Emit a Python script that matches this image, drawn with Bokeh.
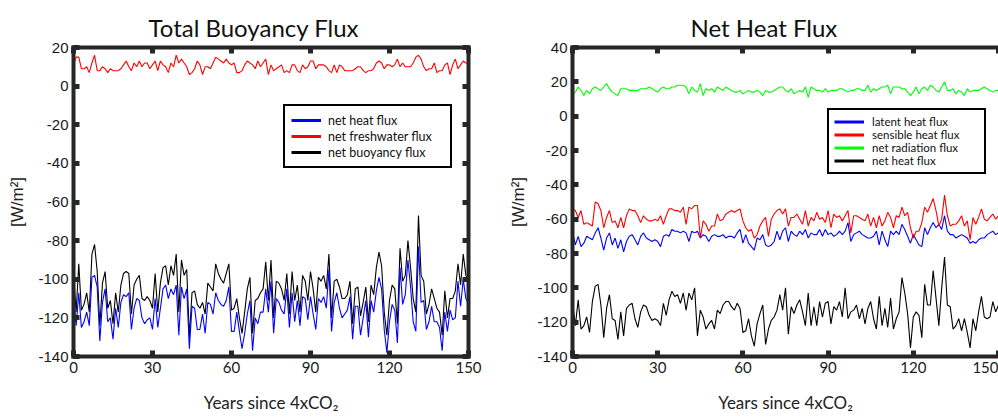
from bokeh.plotting import figure
from bokeh.layouts import row
from bokeh.models import Range1d, LinearAxis, Legend, LegendItem, Title, FixedTicker
from bokeh.embed import file_html
from bokeh.resources import INLINE

years = list(range(151))

# Left panel: Total Buoyancy Flux
buoy_heat = [-108, -124, -107, -125, -122, -117, -124, -99, -98, -104, -132, -112, -105, -122, -120, -131, -115, -125, -112, -108,
             -109, -107, -126, -115, -110, -111, -120, -123, -121, -120, -126, -110, -125, -115, -105, -103, -110, -105, -108, -103,
             -129, -104, -110, -105, -136, -114, -115, -126, -126, -118, -128, -112, -113, -118, -107, -111, -113, -114, -111, -104,
             -127, -127, -117, -127, -136, -128, -118, -111, -137, -120, -123, -117, -117, -105, -117, -101, -128, -110, -112, -116,
             -118, -105, -125, -107, -122, -111, -124, -109, -110, -121, -109, -118, -126, -110, -112, -109, -115, -95, -127, -112,
             -107, -115, -120, -118, -116, -109, -131, -114, -114, -129, -120, -111, -130, -111, -117, -106, -99, -105, -126, -138,
             -122, -113, -116, -133, -94, -113, -108, -90, -104, -122, -127, -83, -112, -111, -126, -122, -114, -122, -122, -125,
             -137, -117, -127, -116, -121, -120, -101, -114, -100, -110, -113]
buoy_fresh = [11, 15, 15, 9, 9, 10, 7, 12, 16, 8, 8, 10, 9, 7, 9, 8, 8, 8, 9, 11,
              13, 10, 8, 12, 10, 13, 10, 12, 12, 9, 11, 13, 8, 13, 11, 10, 7, 12, 10, 16,
              12, 14, 12, 10, 6, 7, 9, 13, 11, 6, 10, 10, 9, 12, 15, 14, 13, 12, 14, 12,
              11, 12, 7, 7, 8, 11, 13, 12, 11, 9, 13, 10, 12, 14, 6, 11, 8, 9, 10, 11,
              7, 8, 7, 11, 11, 8, 7, 11, 9, 10, 13, 13, 9, 11, 11, 11, 10, 8, 7, 11,
              7, 11, 10, 8, 8, 8, 8, 9, 10, 10, 8, 7, 8, 8, 9, 12, 13, 12, 9, 11,
              11, 10, 11, 14, 10, 12, 10, 10, 10, 12, 15, 16, 14, 10, 8, 9, 9, 12, 7, 8,
              8, 11, 12, 6, 11, 14, 9, 11, 13, 12, 12]
buoy_net = [-97, -117, -92, -116, -113, -107, -117, -87, -82, -96, -124, -102, -96, -115, -111, -123, -107, -117, -103, -97,
            -96, -97, -118, -103, -100, -98, -110, -111, -109, -111, -115, -97, -117, -102, -94, -93, -103, -93, -98, -87,
            -117, -90, -98, -95, -130, -107, -106, -113, -115, -112, -118, -102, -104, -106, -92, -97, -100, -102, -97, -92,
            -116, -115, -110, -120, -128, -117, -105, -99, -128, -111, -110, -107, -105, -91, -111, -90, -120, -101, -102, -105,
            -111, -97, -118, -96, -111, -103, -117, -98, -101, -111, -96, -105, -117, -99, -101, -98, -105, -87, -120, -101,
            -100, -104, -110, -110, -108, -101, -123, -105, -104, -119, -112, -104, -122, -103, -108, -94, -86, -93, -117, -129,
            -111, -103, -105, -123, -84, -101, -98, -80, -94, -110, -117, -67, -98, -101, -118, -113, -105, -110, -115, -117,
            -129, -106, -120, -110, -110, -106, -92, -103, -87, -98, -101]

# Right panel: Net Heat Flux
latent = [-67, -75, -70, -76, -74, -70, -71, -72, -68, -65, -71, -78, -71, -68, -75, -71, -77, -72, -79, -73,
          -70, -69, -72, -75, -70, -68, -71, -72, -73, -72, -73, -76, -70, -69, -70, -66, -67, -67, -68, -67,
          -68, -73, -67, -68, -67, -71, -69, -70, -73, -70, -69, -70, -70, -69, -71, -70, -70, -71, -68, -66,
          -74, -69, -74, -76, -78, -71, -72, -69, -75, -76, -75, -73, -67, -72, -67, -65, -73, -67, -69, -70,
          -67, -69, -66, -71, -68, -69, -69, -66, -70, -66, -69, -68, -70, -69, -67, -69, -67, -62, -73, -69,
          -68, -67, -69, -70, -71, -71, -70, -67, -75, -67, -72, -76, -67, -69, -67, -69, -63, -66, -70, -74,
          -69, -72, -75, -76, -65, -69, -65, -62, -65, -63, -66, -58, -67, -69, -69, -71, -70, -69, -70, -71,
          -74, -73, -74, -72, -71, -71, -69, -68, -67, -69, -68]
sensible = [-54, -55, -59, -55, -63, -62, -63, -64, -50, -51, -55, -65, -59, -55, -62, -61, -65, -59, -65, -58,
            -54, -55, -55, -58, -62, -58, -60, -61, -61, -60, -61, -58, -63, -58, -54, -54, -55, -55, -56, -53,
            -63, -53, -54, -52, -52, -71, -61, -63, -67, -64, -64, -57, -61, -60, -57, -56, -55, -56, -55, -54,
            -61, -65, -67, -66, -71, -69, -64, -61, -59, -70, -60, -57, -55, -54, -57, -54, -64, -59, -59, -57,
            -60, -63, -55, -64, -59, -61, -56, -60, -59, -62, -55, -65, -57, -59, -58, -61, -58, -55, -68, -58,
            -58, -59, -60, -61, -57, -64, -59, -65, -58, -64, -61, -56, -59, -65, -58, -59, -53, -58, -56, -65,
            -71, -67, -67, -62, -53, -56, -52, -48, -55, -64, -60, -46, -58, -64, -63, -63, -61, -58, -64, -61,
            -72, -59, -63, -59, -54, -60, -61, -59, -57, -60, -58]
radiation = [13, 14, 17, 15, 12, 15, 13, 16, 17, 16, 15, 17, 19, 16, 14, 13, 12, 16, 16, 16,
             15, 15, 15, 15, 16, 16, 16, 17, 16, 15, 14, 16, 17, 16, 16, 17, 17, 18, 18, 18,
             17, 13, 17, 15, 14, 19, 12, 16, 15, 16, 14, 17, 16, 15, 17, 16, 15, 14, 14, 15,
             13, 14, 15, 14, 14, 15, 14, 12, 15, 14, 14, 15, 16, 17, 17, 15, 14, 16, 13, 14,
             15, 14, 17, 11, 17, 16, 15, 15, 14, 16, 14, 15, 15, 15, 16, 16, 15, 14, 15, 15,
             16, 16, 15, 15, 18, 14, 16, 15, 16, 17, 17, 18, 13, 17, 17, 17, 16, 16, 14, 12,
             14, 17, 13, 16, 17, 15, 18, 17, 15, 14, 17, 20, 15, 15, 16, 13, 15, 14, 12, 16,
             14, 15, 15, 15, 16, 17, 16, 15, 14, 15, 15]
net_heat = [-108, -122, -107, -124, -122, -117, -126, -108, -99, -98, -110, -129, -112, -104, -118, -119, -130, -114, -128, -112,
            -110, -109, -118, -123, -114, -110, -111, -116, -119, -118, -119, -122, -109, -116, -107, -102, -105, -104, -109, -103,
            -113, -103, -107, -100, -128, -113, -117, -124, -121, -119, -124, -113, -115, -110, -108, -108, -111, -113, -109, -112,
            -126, -125, -118, -128, -134, -121, -115, -110, -133, -124, -119, -117, -113, -104, -113, -100, -127, -111, -115, -110,
            -107, -114, -122, -103, -122, -111, -122, -108, -117, -109, -108, -121, -111, -113, -108, -117, -100, -118, -114, -113,
            -110, -118, -112, -121, -112, -108, -118, -124, -105, -122, -112, -123, -106, -124, -118, -114, -94, -103, -115, -135,
            -117, -114, -116, -129, -98, -110, -110, -90, -106, -122, -100, -82, -110, -111, -124, -122, -118, -125, -118, -126,
            -135, -118, -125, -114, -105, -117, -118, -117, -108, -114, -110]

x_ticks = [0, 30, 60, 90, 120, 150]
x_tick_labels = ["0", "30", "60", "90", "120", "150"]
left_y_ticks = [20, 0, -20, -40, -60, -80, -100, -120, -140]
left_y_tick_labels = ["20", "0", "-20", "-40", "-60", "-80", "-100", "-120", "-140"]
right_y_ticks = [40, 20, 0, -20, -40, -60, -80, -100, -120, -140]
right_y_tick_labels = ["40", "20", "0", "-20", "-40", "-60", "-80", "-100", "-120", "-140"]

FRAME = "#262626"
BLUE, RED, GREEN, BLACK = "#0000ff", "#ff0000", "#00ff00", "#000000"


def style_axis(ax, ticks, labels, font):
    ax.ticker = FixedTicker(ticks=ticks)
    ax.axis_line_width = 4
    ax.axis_line_color = FRAME
    ax.axis_line_cap = "square"
    ax.major_tick_in = 6
    ax.major_tick_out = 0
    ax.major_tick_line_width = 5
    ax.major_tick_line_color = FRAME
    ax.minor_tick_line_color = None
    if labels is not None:
        ax.major_label_overrides = {t: s for t, s in zip(ticks, labels)}
        ax.major_label_text_font_size = "15px"
        ax.major_label_text_font = font
        ax.major_label_text_color = "#1a1a1a"
        ax.major_label_standoff = 5
        ax.axis_label_text_font_style = "normal"
        ax.axis_label_text_color = "#222222"
        ax.axis_label_text_font_size = "17px"
    else:
        ax.major_label_text_color = None
        ax.major_label_text_font_size = "1px"
        ax.major_label_standoff = 0


def make_fig(width, ymin, ymax, yticks, ylabels, mb_left, mb_right, mb_top, mb_bottom,
             right_axis, title, title_offset, ylab_standoff):
    p = figure(width=width, height=417, output_backend="svg", toolbar_location=None,
               x_range=Range1d(0, 150), y_range=Range1d(ymin, ymax),
               min_border_left=mb_left, min_border_right=mb_right,
               min_border_top=mb_top, min_border_bottom=mb_bottom,
               x_axis_location=None, y_axis_location=None)
    p.outline_line_color = None
    p.grid.visible = False
    p.background_fill_color = "white"
    p.border_fill_color = "white"
    p.title = Title(text=title, align="left", offset=title_offset, text_font="Lato",
                    text_font_size="24px", text_font_style="normal", text_color="#111111",
                    standoff=8, vertical_align="top")
    bx = LinearAxis(axis_label="Years since 4xCO\u2082", axis_label_standoff=16,
                    axis_label_text_font="Lato")
    style_axis(bx, x_ticks, x_tick_labels, "Lato")
    p.add_layout(bx, "below")
    tx = LinearAxis()
    style_axis(tx, x_ticks, None, "Lato")
    p.add_layout(tx, "above")
    ly = LinearAxis(axis_label="[W/m\u00b2]", axis_label_standoff=ylab_standoff,
                    axis_label_text_font="Liberation Sans")
    style_axis(ly, yticks, ylabels, "Liberation Sans")
    p.add_layout(ly, "left")
    if right_axis:
        ry = LinearAxis()
        style_axis(ry, yticks, None, "Liberation Sans")
        p.add_layout(ry, "right")
    return p


def make_legend(p, names, colors, series, loc, font_size, row_h, padding, glyph_w, standoff, label_w):
    dummies = [p.line(years, s, color=c, line_width=3, visible=False) for s, c in zip(series, colors)]
    leg = Legend(items=[LegendItem(label=n, renderers=[d]) for n, d in zip(names, dummies)],
                 location=loc, margin=0, padding=padding, spacing=0,
                 glyph_width=glyph_w, glyph_height=row_h, label_height=row_h, label_standoff=standoff,
                 label_width=label_w,
                 label_text_font="Lato", label_text_font_size=font_size, label_text_color="#111111",
                 border_line_color="black", border_line_width=2, border_line_alpha=1,
                 background_fill_color="white", background_fill_alpha=1,
                 inactive_fill_alpha=0, click_policy="none")
    p.add_layout(leg)


# ---------- left panel ----------
p1 = make_fig(500, -140, 20, left_y_ticks, left_y_tick_labels, 73, 32, 43, 60, True,
              "Total Buoyancy Flux", 75, 8)
p1.line(years, buoy_net, color=BLACK, line_width=1.1)
p1.line(years, buoy_heat, color=BLUE, line_width=1.1)
p1.line(years, buoy_fresh, color=RED, line_width=1.1)
make_legend(p1, ["net heat flux", "net freshwater flux", "net buoyancy flux"],
            [BLUE, RED, BLACK], [buoy_heat, buoy_fresh, buoy_net], (210, 188), "12.5px", 16, 6,
            30, 7, 116)

# ---------- right panel ----------
p2 = make_fig(498, -140, 40, right_y_ticks, right_y_tick_labels, 72, 0, 47, 61, False,
              "Net Heat Flux", 118, 6)
p2.line(years, net_heat, color=BLACK, line_width=1.1)
p2.line(years, radiation, color=GREEN, line_width=1.1)
p2.line(years, latent, color=BLUE, line_width=1.1)
p2.line(years, sensible, color=RED, line_width=1.1)
make_legend(p2, ["latent heat flux", "sensible heat flux", "net radiation flux", "net heat flux"],
            [BLUE, RED, GREEN, BLACK], [latent, sensible, radiation, net_heat], (255, 182), "11.5px", 13, 5,
            30, 8, 107)

layout = row(p1, p2, spacing=0)
open("out.html", "w").write(file_html(layout, INLINE))
